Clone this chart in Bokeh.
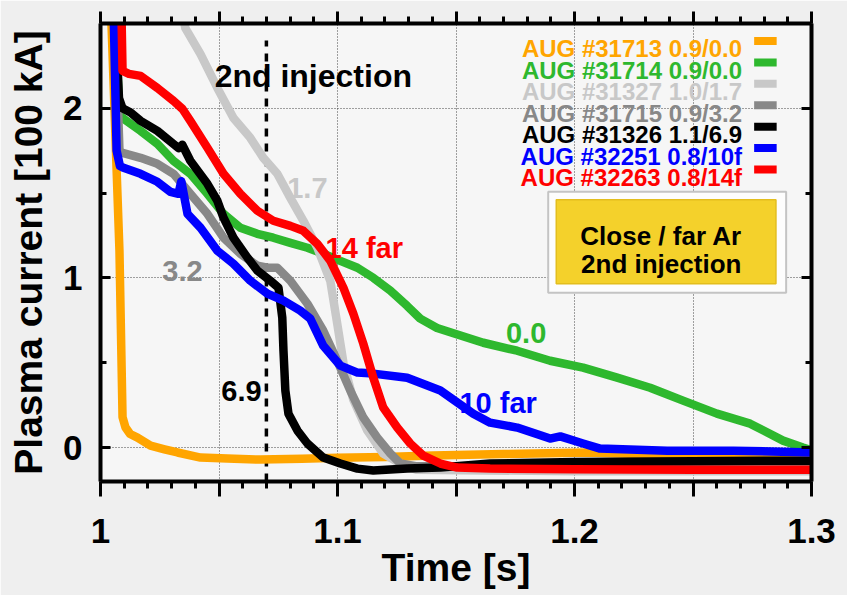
from bokeh.plotting import figure
from bokeh.models import FixedTicker, LinearAxis, Range1d
from bokeh.embed import file_html
from bokeh.resources import INLINE
from bokeh.core.properties import value

# ---- discharge current traces (time [s], plasma current [100 kA]) ----
t_31713 = [1.0045, 1.0080, 1.0093, 1.0105, 1.0125, 1.0156, 1.0211, 1.0270, 1.0325, 1.0422, 1.0535,
           1.0675, 1.0850, 1.1000, 1.1200, 1.1404, 1.1700, 1.2053, 1.2300, 1.2600, 1.3000]
i_31713 = [2.55, 1.16, 0.18, 0.12, 0.08, 0.059, 0.012, -0.010, -0.029, -0.059, -0.065,
           -0.071, -0.066, -0.060, -0.055, -0.047, -0.038, -0.029, -0.040, -0.050, -0.055]

t_31714 = [1.0060, 1.0080, 1.0093, 1.0169, 1.0240, 1.0308, 1.0379, 1.0451, 1.0519, 1.0590, 1.0662,
           1.0729, 1.0801, 1.0873, 1.0940, 1.1012, 1.1084, 1.1151, 1.1223, 1.1294, 1.1349, 1.1420,
           1.1476, 1.1615, 1.1758, 1.1897, 1.2036, 1.2180, 1.2319, 1.2458, 1.2601, 1.2741, 1.2880,
           1.2964, 1.2998]
i_31714 = [2.60, 1.96, 1.943, 1.867, 1.790, 1.690, 1.614, 1.496, 1.378, 1.296, 1.260,
           1.237, 1.207, 1.178, 1.143, 1.101, 1.060, 1.001, 0.925, 0.835, 0.760, 0.705,
           0.680, 0.618, 0.571, 0.512, 0.471, 0.412, 0.353, 0.277, 0.200, 0.141, 0.041,
           0.000, -0.015]

t_31327 = [1.0320, 1.0358, 1.0422, 1.0493, 1.0561, 1.0632, 1.0687, 1.0746, 1.0801, 1.0856, 1.0915,
           1.0970, 1.1000, 1.1025, 1.1067, 1.1126, 1.1193, 1.1265, 1.1330, 1.2000, 1.2500, 1.3000]
i_31327 = [2.75, 2.473, 2.320, 2.120, 1.943, 1.826, 1.708, 1.614, 1.472, 1.337, 1.178,
           0.980, 0.720, 0.500, 0.280, 0.100, -0.035, -0.094, -0.130, -0.140, -0.140, -0.140]

t_31715 = [1.0060, 1.0080, 1.0093, 1.0169, 1.0240, 1.0308, 1.0379, 1.0451, 1.0519, 1.0590, 1.0662,
           1.0704, 1.0746, 1.0801, 1.0873, 1.0940, 1.0999, 1.1054, 1.1109, 1.1168, 1.1223, 1.1265,
           1.1330, 1.2000, 1.3000]
i_31715 = [2.60, 1.75, 1.737, 1.708, 1.673, 1.614, 1.496, 1.378, 1.237, 1.143, 1.072,
           1.060, 1.060, 0.983, 0.848, 0.689, 0.512, 0.336, 0.177, 0.059, -0.035, -0.094,
           -0.110, -0.110, -0.110]

t_31326 = [1.0060, 1.0078, 1.0093, 1.0127, 1.0169, 1.0240, 1.0308, 1.0330, 1.0345, 1.0379, 1.0451,
           1.0493, 1.0519, 1.0561, 1.0620, 1.0662, 1.0717, 1.0751, 1.0767, 1.0772, 1.0780, 1.0793,
           1.0831, 1.0873, 1.0940, 1.1012, 1.1084, 1.1151, 1.1294, 1.1434, 1.1644, 1.2000, 1.2500, 1.3000]
i_31326 = [2.60, 2.06, 2.00, 1.975, 1.926, 1.867, 1.790, 1.765, 1.785, 1.691, 1.555,
           1.455, 1.355, 1.237, 1.120, 1.043, 0.983, 0.942, 0.766, 0.571, 0.336, 0.200,
           0.100, 0.024, -0.059, -0.094, -0.124, -0.135, -0.124, -0.118, -0.094, -0.085, -0.080, -0.077]

t_32251 = [1.0055, 1.0068, 1.0082, 1.0097, 1.0169, 1.0240, 1.0295, 1.0329, 1.0341, 1.0367, 1.0422,
           1.0493, 1.0561, 1.0632, 1.0704, 1.0772, 1.0843, 1.0885, 1.0940, 1.1012, 1.1084, 1.1151,
           1.1294, 1.1434, 1.1573, 1.1644, 1.1758, 1.1897, 1.1940, 1.2036, 1.2108, 1.2391, 1.2669, 1.3000]
i_32251 = [2.60, 1.75, 1.66, 1.649, 1.614, 1.567, 1.508, 1.496, 1.570, 1.378, 1.296,
           1.160, 1.084, 0.984, 0.907, 0.866, 0.807, 0.760, 0.600, 0.483, 0.442, 0.436,
           0.412, 0.336, 0.200, 0.147, 0.118, 0.053, 0.066, 0.024, -0.006, -0.018, -0.018, -0.029]

t_32263 = [1.0088, 1.0093, 1.0120, 1.0169, 1.0240, 1.0308, 1.0346, 1.0379, 1.0451, 1.0519, 1.0590,
           1.0662, 1.0729, 1.0801, 1.0856, 1.0915, 1.0970, 1.1025, 1.1067, 1.1109, 1.1151, 1.1193,
           1.1252, 1.1307, 1.1362, 1.1434, 1.1505, 1.1644, 1.2000, 1.2500, 1.3000]
i_32263 = [2.60, 2.220, 2.203, 2.191, 2.120, 2.044, 1.996, 1.926, 1.767, 1.614, 1.496,
           1.396, 1.337, 1.307, 1.278, 1.201, 1.101, 0.942, 0.789, 0.612, 0.412, 0.236,
           0.118, 0.024, -0.047, -0.094, -0.118, -0.124, -0.128, -0.130, -0.130]

series_t = [t_31713, t_31714, t_31327, t_31715, t_31326, t_32251, t_32263]
series_i = [i_31713, i_31714, i_31327, i_31715, i_31326, i_32251, i_32263]
series_labels = ["AUG #31713 0.9/0.0", "AUG #31714 0.9/0.0", "AUG #31327 1.0/1.7",
                 "AUG #31715 0.9/3.2", "AUG #31326 1.1/6.9", "AUG #32251 0.8/10f",
                 "AUG #32263 0.8/14f"]
series_colors = ["#FFA500", "#2EB82E", "#C8C8C8", "#888888", "#000000", "#0000FF", "#FF0000"]

# curve tags: (text, time, current baseline, colour)
tag_text = ["1.7", "14 far", "3.2", "6.9", "0.0", "10 far"]
tag_t = [1.0873, 1.1113, 1.0346, 1.0595, 1.1796, 1.1678]
tag_i = [1.531, 1.178, 1.042, 0.336, 0.677, 0.265]
tag_color = ["#C8C8C8", "#FF0000", "#888888", "#000000", "#2EB82E", "#0000FF"]

second_injection_t = 1.07

x_ticks = [1.0, 1.05, 1.1, 1.15, 1.2, 1.25, 1.3]
x_tick_labels = ["1", "", "1.1", "", "1.2", "", "1.3"]
x_minor = [round(1.0 + 0.01 * k, 2) for k in range(31)]
y_ticks = [0, 1, 2]
y_minor = [0.5, 1.5]

FONT = "Liberation Sans"

p = figure(width=847, height=595,
           x_range=Range1d(1.0, 1.3), y_range=Range1d(-0.2, 2.5),
           output_backend="svg", toolbar_location=None,
           min_border_left=100, min_border_right=36,
           min_border_top=23, min_border_bottom=114)
p.background_fill_color = "#f6f6f6"
p.border_fill_color = "#efefef"
p.outline_line_color = None

# grid
p.xgrid.ticker = FixedTicker(ticks=[1.05, 1.1, 1.15, 1.2, 1.25])
p.ygrid.ticker = FixedTicker(ticks=y_ticks)
for g in (p.xgrid[0], p.ygrid[0]):
    g.grid_line_color = "#333333"
    g.grid_line_dash = "1 2"
    g.grid_line_width = 1
    g.grid_line_alpha = 0.9

# bottom axis
xa = p.xaxis[0]
xa.ticker = FixedTicker(ticks=x_ticks, minor_ticks=x_minor)
xa.major_label_overrides = {tk: lab for tk, lab in zip(x_ticks, x_tick_labels)}
xa.axis_label = "Time [s]"

# left axis
ya = p.yaxis[0]
ya.ticker = FixedTicker(ticks=y_ticks, minor_ticks=y_minor)
ya.axis_label = "Plasma current [100 kA]"

# mirrored tick axes on top and right (ticks only)
top = LinearAxis(ticker=FixedTicker(ticks=x_ticks, minor_ticks=x_minor))
right = LinearAxis(ticker=FixedTicker(ticks=y_ticks, minor_ticks=y_minor))
top.major_label_overrides = {tk: "" for tk in x_ticks}
right.major_label_overrides = {tk: "" for tk in y_ticks}
p.add_layout(top, "above")
p.add_layout(right, "right")

for ax in (xa, ya, top, right):
    ax.axis_line_width = 4
    ax.axis_line_color = "black"
    ax.major_tick_line_width = 3
    ax.minor_tick_line_width = 3
    ax.major_tick_line_color = "black"
    ax.minor_tick_line_color = "black"
    ax.major_label_text_font = FONT
    ax.major_label_text_font_style = "bold"
    ax.major_label_text_font_size = "35px"
    ax.major_label_text_color = "black"
    ax.axis_label_text_font = FONT
    ax.axis_label_text_font_style = "bold"
    ax.axis_label_text_font_size = "39px"
    ax.axis_label_text_color = "black"

xa.major_tick_in, xa.major_tick_out = 0, 15
xa.minor_tick_in, xa.minor_tick_out = 0, 7
xa.major_label_standoff = 22
xa.axis_label_standoff = 0

top.major_tick_in, top.major_tick_out = 0, 12
top.minor_tick_in, top.minor_tick_out = 0, 7
top.major_label_text_font_size = "2px"
top.major_label_standoff = 0

ya.major_tick_in, ya.major_tick_out = 10, 0
ya.minor_tick_in, ya.minor_tick_out = 6, 0
ya.major_label_standoff = 18
ya.axis_label_standoff = 10

right.major_tick_in, right.major_tick_out = 10, 0
right.minor_tick_in, right.minor_tick_out = 6, 0
right.major_label_text_font_size = "2px"
right.major_label_standoff = 0

# second injection marker
p.segment(x0=[second_injection_t], y0=[-0.2], x1=[second_injection_t], y1=[2.4],
          line_color="black", line_width=3.5, line_dash="8 7")

# current traces
for t, cur, col in zip(series_t, series_i, series_colors):
    p.line(t, cur, line_color=col, line_width=8.5, line_join="round", line_cap="round")

# curve tags
p.text(x=tag_t, y=tag_i, text=tag_text, text_color=tag_color,
       text_align="center", text_baseline="alphabetic",
       text_font=value(FONT), text_font_style="bold", text_font_size="29px")

p.text(x=[1.0898], y=[2.19], text=["2nd injection"], text_color="black",
       text_align="center", text_baseline="alphabetic",
       text_font=value(FONT), text_font_style="bold", text_font_size="32px")

# legend (label on the left, colour swatch on the right)
row_step = 0.1263
leg_base = [2.350 - k * row_step for k in range(len(series_labels))]
p.text(x=[1.2707] * len(series_labels), y=leg_base, text=series_labels,
       text_color=series_colors, text_align="right", text_baseline="alphabetic",
       text_font=value(FONT), text_font_style="bold", text_font_size="24px")
sw_y = [b + 0.047 for b in leg_base]
p.segment(x0=[1.2758] * len(sw_y), x1=[1.2853] * len(sw_y), y0=sw_y, y1=sw_y,
          line_color=series_colors, line_width=8, line_cap="butt")

# info box
p.quad(left=[1.1889], right=[1.2893], top=[1.5077], bottom=[0.9128],
       fill_color="#fdfdfd", line_color="#c4c4c4", line_width=2)
p.quad(left=[1.1923], right=[1.2850], top=[1.4605], bottom=[0.9658],
       fill_color="#F4D12B", line_color="#E3BE1E", line_width=1.5)
p.text(x=[1.2366, 1.2366], y=[1.2485, 1.0836], text=["Close / far Ar", "2nd injection"],
       text_color="black", text_align="center", text_baseline="alphabetic",
       text_font=value(FONT), text_font_style="bold", text_font_size="26px")

open("out.html", "w").write(file_html(p, INLINE))
